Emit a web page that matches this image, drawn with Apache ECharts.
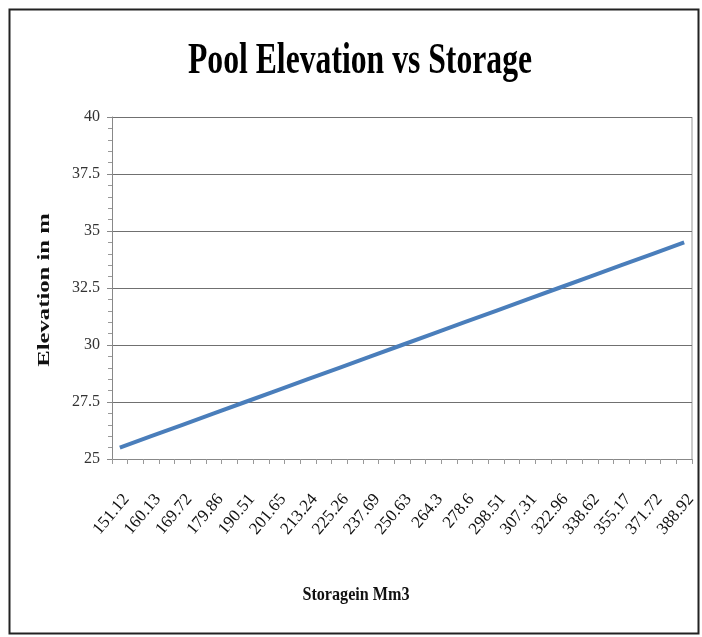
<!DOCTYPE html>
<html>
<head>
<meta charset="utf-8">
<script src="https://cdn.jsdelivr.net/npm/echarts@6/dist/echarts.min.js"></script>
<style>
html,body{margin:0;padding:0;background:#fff;}
#chart{width:702px;height:637px;}
</style>
</head>
<body>
<div id="chart"></div>
<script>
// Storage (Mm3) tick labels
const storage = [151.12, 160.13, 169.72, 179.86, 190.51, 201.65, 213.24, 225.26, 237.69, 250.63,
                 264.3, 278.6, 298.51, 307.31, 322.96, 338.62, 355.17, 371.72, 388.92];
// Pool elevation (m) at each labelled storage
const elevation = [25.5, 26, 26.5, 27, 27.5, 28, 28.5, 29, 29.5, 30,
                   30.5, 31, 31.5, 32, 32.5, 33, 33.5, 34, 34.5];
const titleText = 'Pool Elevation vs Storage';
const xName = 'Storagein Mm3';
const yName = 'Elevation in m';

// The original axis has an unlabelled slot between each labelled storage value
const cats = [];
const vals = [];
storage.forEach((s, i) => {
  cats.push(String(s));
  vals.push(elevation[i]);
  if (i < storage.length - 1) { cats.push(''); vals.push('-'); }
});

const serif = '"Liberation Serif", "DejaVu Serif", serif';
const chart = echarts.init(document.getElementById('chart'), null, {renderer: 'canvas'});
chart.setOption({
  animation: false,
  backgroundColor: '#fff',
  grid: {left: 112, right: 10, top: 117, bottom: 178, containLabel: false},
  graphic: [
    {type: 'rect', left: 7, top: 7, shape: {width: 689, height: 624},
     style: {fill: 'none', stroke: '#222', lineWidth: 2}, z: 0},
    {type: 'text', x: 360, y: 62, scaleX: 0.72, scaleY: 1,
     style: {text: titleText, font: 'bold 44px ' + serif, fill: '#000',
             textAlign: 'center', textVerticalAlign: 'middle'}},
    {type: 'text', x: 45, y: 290, rotation: Math.PI / 2, scaleX: 1.45, scaleY: 1,
     style: {text: yName, font: 'bold 17px ' + serif, fill: '#111',
             textAlign: 'center', textVerticalAlign: 'middle'}},
    {type: 'text', x: 356, y: 595, scaleX: 0.85, scaleY: 1,
     style: {text: xName, font: 'bold 19px ' + serif, fill: '#111',
             textAlign: 'center', textVerticalAlign: 'middle'}},
    {type: 'line', shape: {x1: 692, y1: 117, x2: 692, y2: 459},
     style: {stroke: '#999', lineWidth: 1}}
  ],
  xAxis: {
    type: 'category',
    data: cats,
    boundaryGap: true,
    axisLine: {lineStyle: {color: '#888', width: 1}},
    axisTick: {show: true, interval: 0, length: 5, lineStyle: {color: '#999'}},
    axisLabel: {interval: 0, rotate: 50, margin: 32, verticalAlign: 'top',
                fontFamily: serif, fontSize: 17, color: '#111'},
    splitLine: {show: false}
  },
  yAxis: {
    type: 'value',
    min: 25, max: 40, interval: 2.5,
    axisLine: {show: true, lineStyle: {color: '#888', width: 1}},
    axisTick: {show: true, length: 5, lineStyle: {color: '#888'}},
    minorTick: {show: true, splitNumber: 5, length: 4, lineStyle: {color: '#999'}},
    axisLabel: {fontFamily: serif, fontSize: 16, color: '#333', margin: 12},
    splitLine: {show: true, lineStyle: {color: '#707070', width: 1}}
  },
  series: [{
    type: 'line',
    data: vals,
    connectNulls: true,
    showSymbol: false,
    symbol: 'none',
    lineStyle: {color: '#4A7EBB', width: 4},
    itemStyle: {color: '#4A7EBB'}
  }]
});
</script>
</body>
</html>
